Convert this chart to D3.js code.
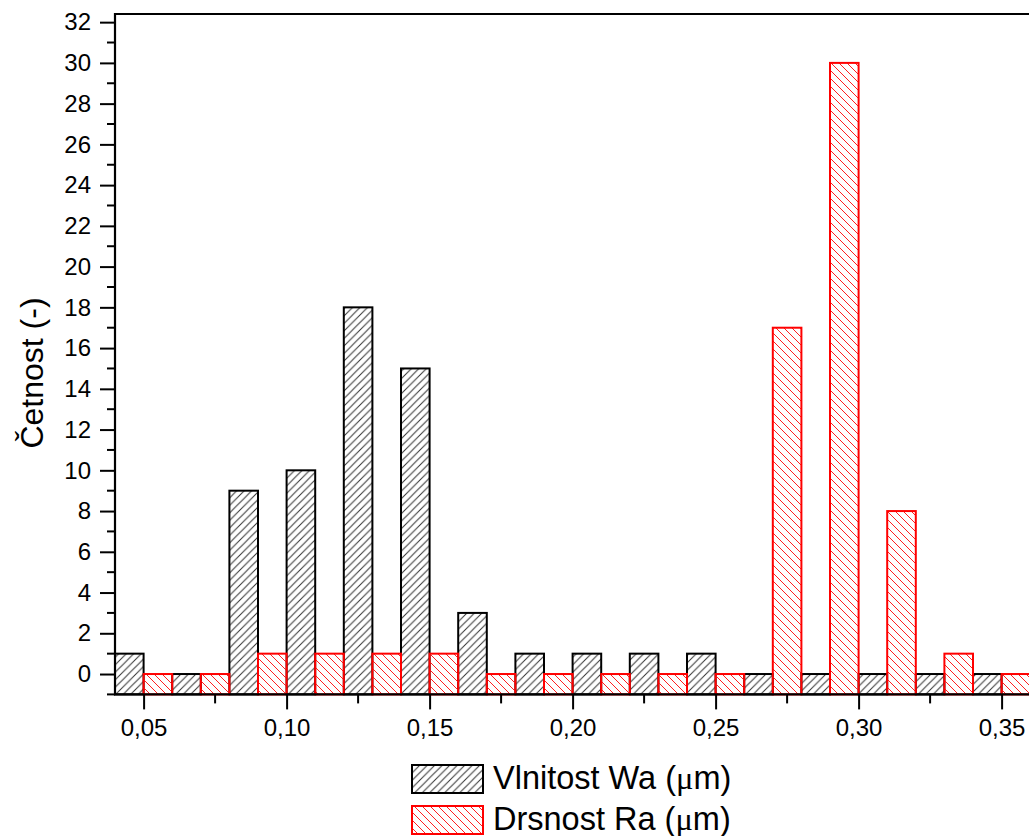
<!DOCTYPE html>
<html>
<head>
<meta charset="utf-8">
<script src="https://cdn.jsdelivr.net/npm/d3@7"></script>
<style>
  html, body { margin: 0; padding: 0; background: #fff; }
  svg { display: block; }
  text { font-family: "Liberation Sans", Arial, sans-serif; fill: #000; }
</style>
</head>
<body>
<svg id="chart" width="1029" height="836"></svg>
<script>
// ---- data ----
const binCenters = [0.05, 0.07, 0.09, 0.11, 0.13, 0.15, 0.17, 0.19, 0.21, 0.23, 0.25, 0.27, 0.29, 0.31, 0.33, 0.35];
const wavinessWa = [1, 0, 9, 10, 18, 15, 3, 1, 1, 1, 1, 0, 0, 0, 0, 0];
const roughnessRa = [0, 0, 1, 1, 1, 1, 0, 0, 0, 0, 0, 17, 30, 8, 1, 0];
const xTickValues = [0.05, 0.10, 0.15, 0.20, 0.25, 0.30, 0.35];
const yTickValues = [0, 2, 4, 6, 8, 10, 12, 14, 16, 18, 20, 22, 24, 26, 28, 30, 32];
const seriesNames = ["Vlnitost Wa", "Drsnost Ra"];
const yTitle = "Četnost (-)";
const halfBin = 0.01;

// ---- layout ----
const svg = d3.select("#chart");
const pLeft = 115, pTop = 14, pBottom = 694.4;
const x = d3.scaleLinear().domain([0.04, 0.36]).range([pLeft, pLeft + 0.32 * 2860]);
const y = d3.scaleLinear().domain([-1, 32.4]).range([pBottom, pTop]);

const defs = svg.append("defs");
defs.append("pattern").attr("id", "hBlack").attr("patternUnits", "userSpaceOnUse")
  .attr("width", 7.5).attr("height", 7.5)
  .append("path").attr("d", "M-1,1 L1,-1 M0,7.5 L7.5,0 M6.5,8.5 L8.5,6.5")
  .attr("stroke", "#333").attr("stroke-width", 1).attr("fill", "none");
defs.append("pattern").attr("id", "hRed").attr("patternUnits", "userSpaceOnUse")
  .attr("width", 8).attr("height", 8)
  .append("path").attr("d", "M-1,7 L1,9 M0,0 L8,8 M7,-1 L9,1")
  .attr("stroke", "#ff2020").attr("stroke-width", 1).attr("fill", "none");

const bars = svg.append("g");
const base = y.domain()[0];
bars.selectAll("rect.wa").data(binCenters).join("rect").attr("class", "wa")
  .attr("x", d => x(d - halfBin))
  .attr("width", d => x(d) - x(d - halfBin))
  .attr("y", (d, i) => y(wavinessWa[i]))
  .attr("height", (d, i) => y(base) - y(wavinessWa[i]))
  .attr("fill", "url(#hBlack)").attr("stroke", "#000").attr("stroke-width", 2);
bars.selectAll("rect.ra").data(binCenters).join("rect").attr("class", "ra")
  .attr("x", d => x(d))
  .attr("width", d => x(d + halfBin) - x(d))
  .attr("y", (d, i) => y(roughnessRa[i]))
  .attr("height", (d, i) => y(base) - y(roughnessRa[i]))
  .attr("fill", "url(#hRed)").attr("stroke", "#ff0000").attr("stroke-width", 2);

// ---- axes ----
const fmtX = v => d3.format(".2f")(v).replace(".", ",");
const xAxis = d3.axisBottom(x).tickValues(xTickValues).tickFormat(fmtX).tickSizeOuter(0).tickSize(15).tickPadding(10);
const gx = svg.append("g").attr("transform", `translate(0,${pBottom})`).call(xAxis);
gx.select(".domain").remove();
gx.selectAll(".tick line").attr("stroke", "#000").attr("stroke-width", 2);
gx.selectAll(".tick text").attr("font-size", 24).attr("font-family", "Liberation Sans, Arial, sans-serif").attr("fill", "#000");
const xMinor = xTickValues.slice(0, -1).map(v => v + 0.025);
svg.append("g").selectAll("line").data(xMinor).join("line")
  .attr("x1", d => x(d)).attr("x2", d => x(d)).attr("y1", pBottom).attr("y2", pBottom + 9)
  .attr("stroke", "#000").attr("stroke-width", 2);

const yAxis = d3.axisLeft(y).tickValues(yTickValues).tickFormat(d3.format("d")).tickSizeOuter(0).tickSize(15).tickPadding(9);
const gy = svg.append("g").attr("transform", `translate(${pLeft},0)`).call(yAxis);
gy.select(".domain").remove();
gy.selectAll(".tick line").attr("stroke", "#000").attr("stroke-width", 2);
gy.selectAll(".tick text").attr("font-size", 24).attr("font-family", "Liberation Sans, Arial, sans-serif").attr("fill", "#000");
const yMinor = d3.range(-1, 32, 2);
svg.append("g").selectAll("line").data(yMinor).join("line")
  .attr("x1", pLeft - 8).attr("x2", pLeft).attr("y1", d => y(d)).attr("y2", d => y(d))
  .attr("stroke", "#000").attr("stroke-width", 2);

// frame (left, top, bottom)
const pRight = x.range()[1];
svg.append("path")
  .attr("d", `M${pRight},${pTop} L${pLeft},${pTop} L${pLeft},${pBottom} L${pRight},${pBottom}`)
  .attr("fill", "none").attr("stroke", "#000").attr("stroke-width", 2.2);

// y title
svg.append("text")
  .attr("transform", `translate(43,373) rotate(-90)`)
  .attr("text-anchor", "middle")
  .attr("font-size", 32)
  .text(yTitle);

// ---- legend ----
const legend = svg.append("g");
const legendRows = [
  { name: seriesNames[0], fill: "url(#hBlack)", stroke: "#000", ly: 765 },
  { name: seriesNames[1], fill: "url(#hRed)", stroke: "#ff0000", ly: 806 }
];
legendRows.forEach(r => {
  legend.append("rect").attr("x", 412).attr("y", r.ly).attr("width", 71).attr("height", 28)
    .attr("fill", r.fill).attr("stroke", r.stroke).attr("stroke-width", 2);
  const t = legend.append("text").attr("x", 493).attr("y", r.ly + 24).attr("font-size", 32.5);
  t.append("tspan").text(r.name + " (");
  t.append("tspan").attr("font-family", "Liberation Serif, serif").text("μ");
  t.append("tspan").text("m)");
});
</script>
</body>
</html>
